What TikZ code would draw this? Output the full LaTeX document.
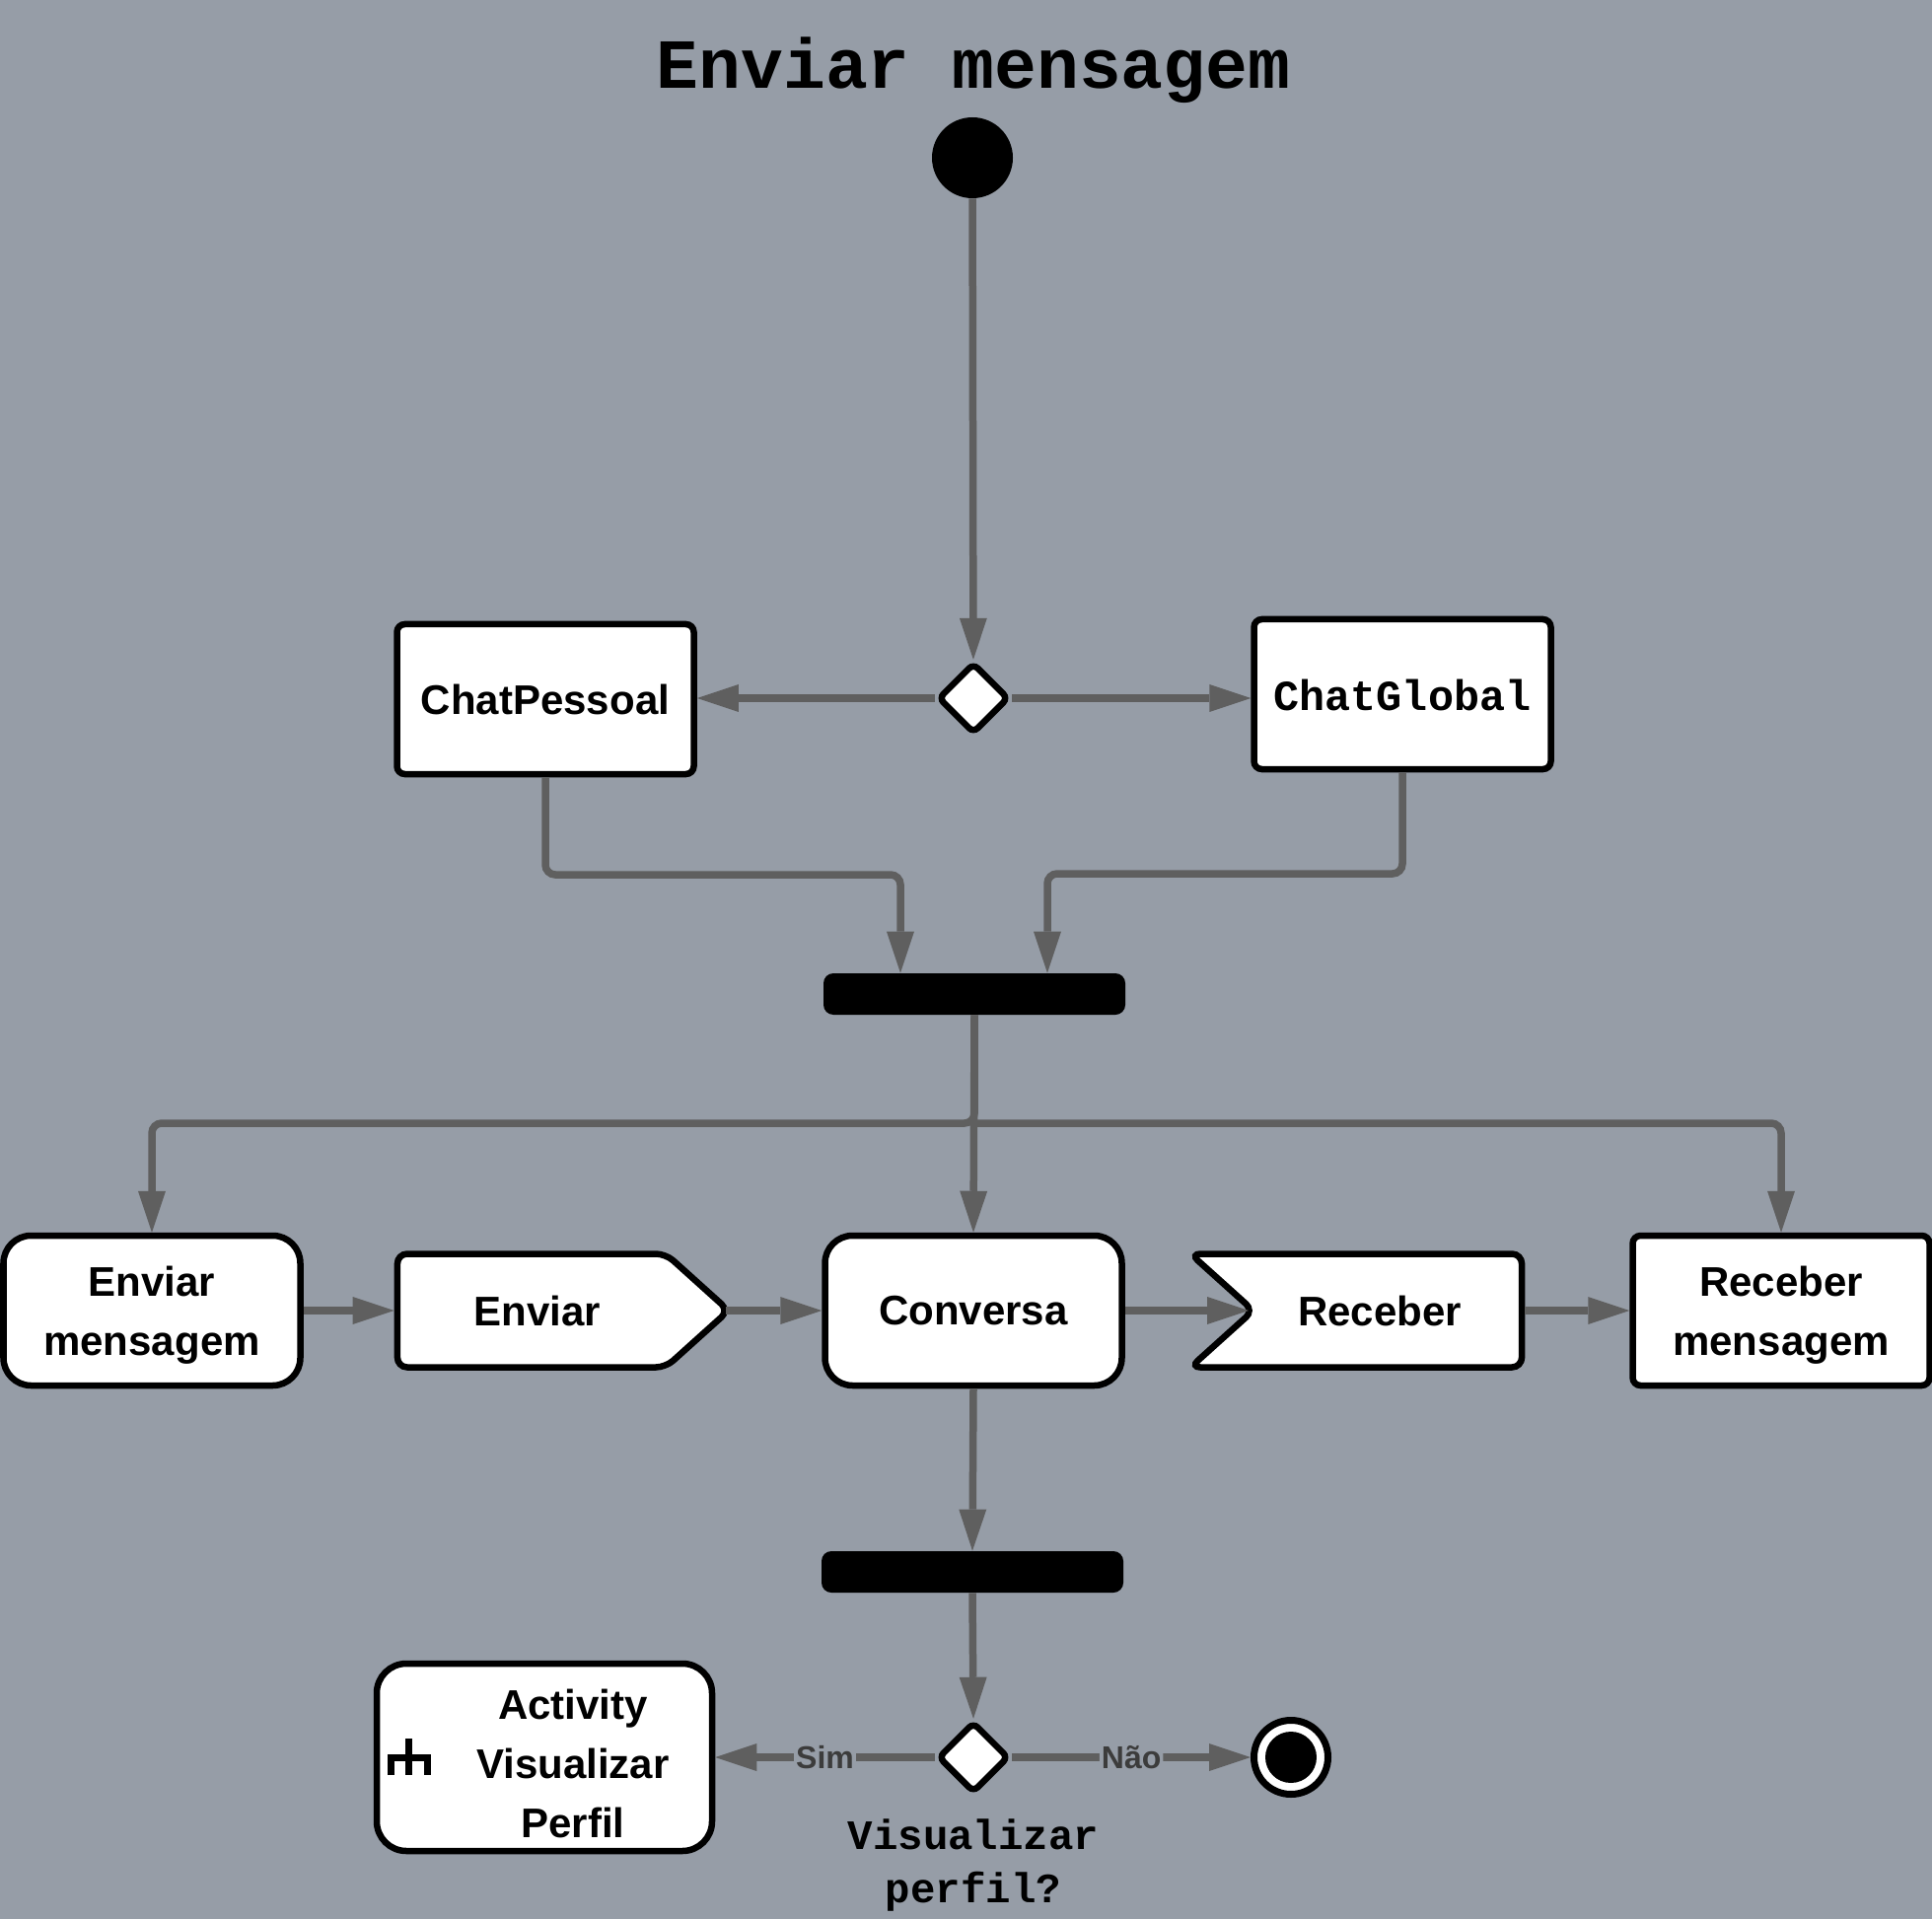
\documentclass[tikz,border=0pt]{standalone}
\usepackage{fontspec}
\setmainfont{Liberation Sans}
\setmonofont{Liberation Mono}
\usetikzlibrary{arrows.meta,shapes.geometric,shapes.symbols,calc}
\definecolor{bgc}{RGB}{150,157,167}
\definecolor{linec}{RGB}{95,95,95}
\definecolor{lblc}{RGB}{60,60,60}
\tikzset{
  box/.style={draw=black, line width=3.25pt, fill=white, minimum width=150.5pt, minimum height=76pt, inner sep=0pt, font=\fontsize{21}{30}\selectfont\bfseries, align=center},
  sharp/.style={box, rounded corners=4pt},
  soft/.style={box, rounded corners=14pt},
  sig/.style={box, signal, signal pointer angle=84, minimum width=168pt, minimum height=57.5pt, rounded corners=5pt},
  bar/.style={fill=black, minimum width=153pt, minimum height=21pt, rounded corners=5pt, inner sep=0pt},
  choice/.style={diamond, draw=black, line width=3.25pt, fill=white, minimum width=36pt, minimum height=36pt, inner sep=0pt, rounded corners=3pt},
  flow/.style={draw=linec, line width=3.75pt, rounded corners=5pt, -{Triangle[length=21pt,width=14pt,line width=0pt]}},
  guard/.style={fill=bgc, text=lblc, inner sep=1pt, font=\fontsize{16}{16}\selectfont\bfseries},
  mono/.style={font=\fontsize{#1}{27}\selectfont\ttfamily\bfseries},
}

\begin{document}
\begin{tikzpicture}[x=0.5pt, y=-0.5pt]
	\fill[bgc] (0,0) rectangle (1959,1946);
	\useasboundingbox (0,0) rectangle (1959,1946);
	\node(title) at (987,90) [anchor=base, mono=35.7]{Enviar mensagem};
	\node(start) at (986,160) [circle, fill=black, minimum size=41pt, inner sep=0pt]{};
	\node(dec1) at (987,708) [choice]{};
	\node(chatp) at (553,709) [sharp]{ChatPessoal};
	\node(chatg) at (1422,704) [sharp, mono=21.7]{\rule{0pt}{17pt}ChatGlobal};
	\node(bar1) at (988,1008) [bar]{};
	\node(envmsg) at (154,1329) [soft]{\rule{0pt}{20pt}Enviar\\mensagem};
	\node(enviar) at (539,1329) [sig, signal to=east]{\hspace*{6pt}Enviar};
	\node(conv) at (987,1329) [soft]{Conversa};
	\node(recv) at (1407,1329) [sig, signal to=nowhere, signal from=west]{\hspace*{-8pt}Receber};
	\node(recvmsg) at (1806,1329) [sharp]{\rule{0pt}{20pt}Receber\\mensagem};
	\node(bar2) at (986,1594) [bar]{};
	\node(dec2) at (987,1782) [choice]{};
	\node(act) at (552,1782) [soft, minimum width=170pt, minimum height=95pt, rounded corners=15pt]{\rule{0pt}{22pt}\hspace*{29pt}Activity\\\hspace*{29pt}Visualizar\\\hspace*{29pt}Perfil};
	\node(final) at (1309,1782) [circle, draw=black, line width=3.5pt, fill=white, minimum size=37.5pt, inner sep=0pt, path picture={\fill[black] (path picture bounding box.center) circle (13pt);}]{};
	\node(ask) at (987,1892) [mono=21.2, align=center]{Visualizar\\perfil?};
	% call behaviour icon
	\draw[line width=3.5pt] ($(act.west)+(17.5,18)$) -- ++(0,-18) -- ++(37.5,0) -- ++(0,18)
		($(act.west)+(36,-19)$) -- ++(0,37);
	\coordinate(jp) at (913,887);
	\coordinate(jg) at (1062,886);
	\coordinate(fan) at (988,1139);
	\draw[flow](start) -- (dec1);
	\draw[flow](dec1.west) -- (dec1.west -| chatp.east);
	\draw[flow](dec1.east) -- (dec1.east -| chatg.west);
	\draw[flow](chatp.south) |- (jp) -- (jp |- bar1.north);
	\draw[flow](chatg.south) |- (jg) -- (jg |- bar1.north);
	\draw[flow](bar1.south) -- (fan) -| (envmsg.north);
	\draw[flow](fan) -| (recvmsg.north);
	\draw[flow](bar1.south) -- (conv.north);
	\draw[flow](envmsg.east) -- (enviar.west);
	\draw[flow]([xshift=-4pt]enviar.east) -- (conv.west);
	\draw[flow](conv.east) -- (recv.west);
	\draw[flow](recv.east) -- (recvmsg.west);
	\draw[flow](conv.south) -- (bar2.north);
	\draw[flow](bar2.south) -- (dec2.north);
	\draw[flow](dec2.west) -- node[guard]{Sim} (act.east);
	\draw[flow](dec2.east) -- node[guard]{Não} (final.west);
\end{tikzpicture}
\end{document}
